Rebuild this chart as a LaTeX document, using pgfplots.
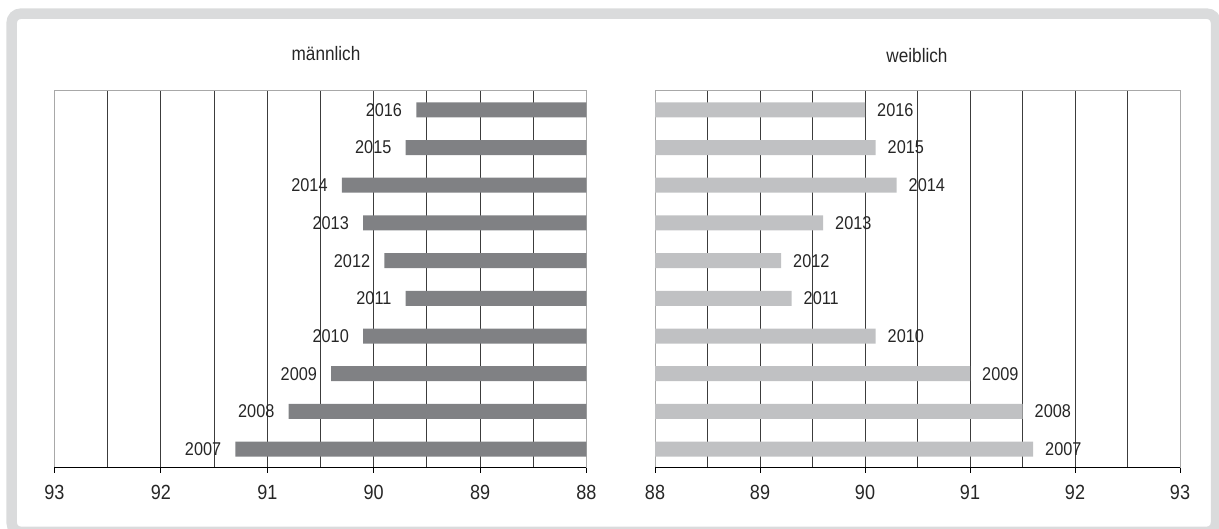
\documentclass[border=0pt]{standalone}
\usepackage{pgfplots}
\pgfplotsset{compat=1.18}
\usepackage{pgfplotstable}
\usepackage{fontspec}
\setmainfont{Liberation Sans}[FakeStretch=0.88]

\definecolor{framegray}{HTML}{DADBDC}
\definecolor{bardark}{HTML}{808184}
\definecolor{barlight}{HTML}{C0C1C3}
\definecolor{gridc}{HTML}{3C3C3C}
\definecolor{boxc}{HTML}{A8A8A8}
\definecolor{txt}{HTML}{262626}

\pgfplotstableread{
val year lab
89.6 2016 2016
89.7 2015 2015
90.3 2014 2014
90.1 2013 2013
89.9 2012 2012
89.7 2011 2011
90.1 2010 2010
90.4 2009 2009
90.8 2008 2008
91.3 2007 2007
}\maletable

\pgfplotstableread{
val year lab
90.0 2016 2016
90.1 2015 2015
90.3 2014 2014
89.6 2013 2013
89.2 2012 2012
89.3 2011 2011
90.1 2010 2010
91.0 2009 2009
91.5 2008 2008
91.6 2007 2007
}\femaletable

\pgfplotsset{
  panel/.style={
    scale only axis,
    anchor=south west,
    height=377pt,
    xmin=88, xmax=93,
    ymin=2006.5, ymax=2016.5,
    xtick={88,89,90,91,92,93},
    minor xtick={88.5,89.5,90.5,91.5,92.5,93},
    xmajorgrids, xminorgrids,
    grid style={gridc, line width=1pt},
    minor grid style={gridc, line width=1pt},
    ytick=\empty,
    xtick pos=bottom,
    tick align=outside,
    major tick length=5pt,
    minor tick length=0pt,
    tick style={black, line width=1pt},
    axis line style={boxc, line width=1pt},
    /pgf/number format/assume math mode=true,
    xticklabel style={font=\fontsize{20.5}{22}\selectfont, text=txt, anchor=north, inner sep=0pt, yshift=-12pt},
    xbar, bar width=15pt,
    point meta=explicit symbolic,
    nodes near coords,
    after end axis/.code={\draw[black, line width=1pt] (rel axis cs:0,0) -- (rel axis cs:1,0);},
  }
}

\begin{document}
\begin{tikzpicture}[x=1pt,y=1pt]
\draw[framegray, line width=10.5pt, rounded corners=9pt] (11.7,-2.9) rectangle (1216,515.3);

\begin{axis}[panel, at={(54.5pt,61pt)}, width=532pt, x dir=reverse,
  every node near coord/.append style={anchor=east, inner sep=0pt, xshift=-14pt, font=\fontsize{18.5}{20}\selectfont, text=txt}]
\addplot[fill=bardark, draw=none] table[x=val, y=year, meta=lab] {\maletable};
\end{axis}

\begin{axis}[panel, at={(655pt,61pt)}, width=525pt,
  every node near coord/.append style={anchor=west, inner sep=0pt, xshift=12pt, font=\fontsize{18.5}{20}\selectfont, text=txt}]
\addplot[fill=barlight, draw=none] table[x=val, y=year, meta=lab] {\femaletable};
\end{axis}

\node[anchor=base, inner sep=0pt, text=txt, font=\fontsize{19.5}{21}\selectfont] at (326,468) {männlich};
\node[anchor=base, inner sep=0pt, text=txt, font=\fontsize{19.5}{21}\selectfont] at (917,466) {weiblich};

\pgfresetboundingbox
\path[use as bounding box] (0,0) rectangle (1219,529);
\end{tikzpicture}
\end{document}
